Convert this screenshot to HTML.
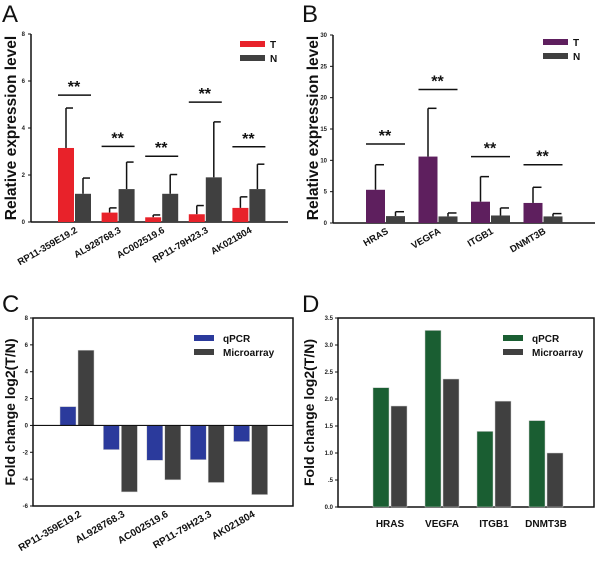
<!DOCTYPE html>
<html><head><meta charset="utf-8"><style>
body{margin:0;background:#fff;width:600px;height:573px;overflow:hidden}
svg{font-family:"Liberation Sans",Arial,sans-serif}
</style></head><body>
<svg id="s" width="600" height="573" xmlns="http://www.w3.org/2000/svg"></svg>
<script>
// Panel A data
const catsA=["RP11-359E19.2","AL928768.3","AC002519.6","RP11-79H23.3","AK021804"];
const aT=[3.15,0.4,0.2,0.33,0.6];
const aTerr=[4.85,0.6,0.3,0.7,1.07];
const aN=[1.2,1.4,1.2,1.9,1.4];
const aNerr=[1.87,2.55,2.02,4.26,2.46];
const aSig=[5.4,3.22,2.8,5.1,3.2];
const ticksA=[0,2,4,6,8];
// Panel B data
const catsB=["HRAS","VEGFA","ITGB1","DNMT3B"];
const bT=[5.3,10.6,3.4,3.2];
const bTerr=[9.3,18.3,7.4,5.7];
const bN=[1.1,1.05,1.2,1.05];
const bNerr=[1.8,1.6,2.4,1.5];
const bSig=[12.6,21.3,10.6,9.3];
const ticksB=[0,5,10,15,20,25,30];
// Panel C data
const catsC=["RP11-359E19.2","AL928768.3","AC002519.6","RP11-79H23.3","AK021804"];
const cQ=[1.4,-1.8,-2.6,-2.55,-1.2];
const cM=[5.6,-4.95,-4.05,-4.25,-5.15];
const ticksC=[-6,-4,-2,0,2,4,6,8];
// Panel D data
const catsD=["HRAS","VEGFA","ITGB1","DNMT3B"];
const dQ=[2.21,3.27,1.4,1.6];
const dM=[1.87,2.37,1.96,1.0];
const ticksD=[0,0.5,1,1.5,2,2.5,3,3.5];
const ticksDLabels=["0.0",".5","1.0","1.5","2.0","2.5","3.0","3.5"];

const S=document.getElementById('s');
function el(tag,attrs,parent,text){const e=document.createElementNS('http://www.w3.org/2000/svg',tag);for(const k in attrs)e.setAttribute(k,attrs[k]);if(text!==undefined)e.textContent=text;(parent||S).appendChild(e);return e;}
function sc(d0,d1,r0,r1){return v=>r0+(v-d0)*(r1-r0)/(d1-d0);}
const DG="#404040";

[["A",2,22],["B",302,22],["C",2,312],["D",302,312]].forEach(p=>{const t=el('text',{x:p[1],y:p[2],'font-size':24,fill:'#111'},S,p[0]);});

function errPanel(o){
  const g=el('g',{});
  const y=sc(0,o.max,o.y0,o.y1);
  el('line',{x1:o.ax,y1:o.y1,x2:o.ax,y2:o.y0,stroke:'#111','stroke-width':1.5},g);
  el('line',{x1:o.ax,y1:o.y0,x2:o.axEnd,y2:o.y0,stroke:'#111','stroke-width':1.5},g);
  o.ticks.forEach(t=>{el('line',{x1:o.ax-3,x2:o.ax,y1:y(t),y2:y(t),stroke:'#111'},g);const tl=el('text',{x:o.ax-6,y:y(t)+2,'font-size':6,'font-weight':'bold','text-anchor':'end',fill:'#222'},g,t);});
  const yl=el('text',{transform:`translate(${o.ylx},${o.ylc}) rotate(-90)`,'font-size':15.5,'font-weight':'bold','text-anchor':'middle',fill:'#111'},g,'Relative expression level');
  
  o.cats.forEach((c,i)=>{
    const x=o.x0+i*o.sp, w=o.bw;
    const xs=[x,x+w+1];
    [[o.T,o.Terr,o.col],[o.N,o.Nerr,DG]].forEach((s,j)=>{
      const bx=xs[j];
      el('line',{x1:bx+w/2,x2:bx+w/2,y1:y(s[0][i]),y2:y(s[1][i]),stroke:'#111','stroke-width':1.5},g);
      el('line',{x1:bx+w/2,x2:bx+w-1,y1:y(s[1][i]),y2:y(s[1][i]),stroke:'#111','stroke-width':1.5},g);
      const r=el('rect',{x:bx,y:y(s[0][i]),width:w,height:o.y0-y(s[0][i]),fill:s[2]},g);
      
    });
    el('line',{x1:x,x2:x+2*w+1,y1:y(o.sig[i]),y2:y(o.sig[i]),stroke:'#111','stroke-width':1.5},g);
    const st=el('text',{x:x+w,y:y(o.sig[i])-3,'font-size':16,'font-weight':'bold','text-anchor':'middle',fill:'#111'},g,'**');
    
    const cx=x+w+4;
    const xl=el('text',{transform:`translate(${cx},${o.y0+10}) rotate(-30)`,'font-size':o.xf,'font-weight':'bold','text-anchor':'end',fill:'#111'},g,c);
    
  });
  [["T",o.col,o.lg[1]],["N",DG,o.lg[1]+14]].forEach(l=>{
    const lg=el('g',{},g);
    el('rect',{x:o.lg[0],y:l[2],width:25,height:6,fill:l[1]},lg);
    el('text',{x:o.lg[0]+30,y:l[2]+7,'font-size':10,'font-weight':'bold',fill:'#111'},lg,l[0]);
  });
}
errPanel({name:'panel-a-chart',cats:catsA,T:aT,Terr:aTerr,N:aN,Nerr:aNerr,sig:aSig,ticks:ticksA,max:8,y0:222,y1:34,ax:31,axEnd:288,x0:58,sp:43.6,bw:16,col:'#e8222a',lg:[240,41],ylx:16,ylc:128,xf:9.5});
errPanel({name:'panel-b-chart',cats:catsB,T:bT,Terr:bTerr,N:bN,Nerr:bNerr,sig:bSig,ticks:ticksB,max:30,y0:223,y1:35,ax:333,axEnd:595,x0:366,sp:52.5,bw:19,col:'#5e1f5e',lg:[543,39],ylx:318,ylc:128,xf:9.5});

function fcPanel(o){
  const g=el('g',{});
  const y=sc(o.min,o.max,o.yb,o.yt);
  el('rect',{x:o.bx0,y:o.yt,width:o.bx1-o.bx0,height:o.yb-o.yt,fill:'none',stroke:'#111','stroke-width':1.5},g);
  o.ticks.forEach((t,k)=>{el('line',{x1:o.bx0-3,x2:o.bx0,y1:y(t),y2:y(t),stroke:'#111'},g);const tl=el('text',{x:o.bx0-5,y:y(t)+2,'font-size':6,'font-weight':'bold','text-anchor':'end',fill:'#222'},g,o.tl?o.tl[k]:t);});
  const yl=el('text',{transform:`translate(${o.ylx},${(o.yt+o.yb)/2}) rotate(-90)`,'font-size':14,'font-weight':'bold','text-anchor':'middle',fill:'#111'},g,'Fold change log2(T/N)');
  
  const z=y(Math.max(0,o.min));
  o.cats.forEach((c,i)=>{
    const x=o.x0+i*o.sp,w=o.bw;
    [[o.Q,o.col],[o.M,DG]].forEach((s,j)=>{
      const v=s[0][i],bx=x+j*(w+2);
      const r=el('rect',{x:bx,y:Math.min(y(v),z),width:w,height:Math.abs(y(v)-z),fill:s[1],stroke:'#ccc','stroke-width':0.5},g);
      
    });
    let xl;
    if(o.rot) xl=el('text',{transform:`translate(${x+w+6},${o.yb+10}) rotate(-30)`,'font-size':10,'font-weight':'bold','text-anchor':'end',fill:'#111'},g,c);
    else xl=el('text',{x:x+w+1,y:o.yb+20,'font-size':10,'font-weight':'bold','text-anchor':'middle',fill:'#111'},g,c);
    
  });
  if(o.min<0) el('line',{x1:o.bx0,x2:o.bx1,y1:z,y2:z,stroke:'#111','stroke-width':1.2},g);
  [["qPCR",o.col,o.lg[1]],["Microarray",DG,o.lg[1]+14]].forEach(l=>{
    const lg=el('g',{},g);
    el('rect',{x:o.lg[0],y:l[2],width:20,height:6,fill:l[1]},lg);
    el('text',{x:o.lg[0]+29,y:l[2]+7,'font-size':10,'font-weight':'bold',fill:'#111'},lg,l[0]);
  });
}
fcPanel({name:'panel-c-chart',cats:catsC,Q:cQ,M:cM,ticks:ticksC,min:-6,max:8,yb:506,yt:318,bx0:33,bx1:293,x0:60,sp:43.4,bw:16,col:'#2b3a9c',lg:[194,335],ylx:15,rot:true});
fcPanel({name:'panel-d-chart',cats:catsD,Q:dQ,M:dM,ticks:ticksD,tl:ticksDLabels,min:0,max:3.5,yb:507,yt:318,bx0:338,bx1:594,x0:373,sp:52,bw:16,col:'#1a5e32',lg:[503,335],ylx:314,rot:false});
</script>
</body></html>
